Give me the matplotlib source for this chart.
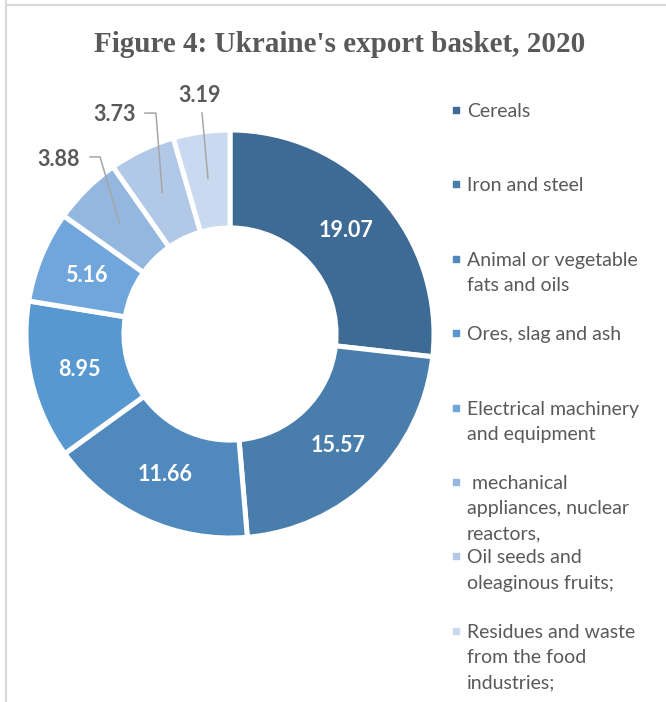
import numpy as np
import matplotlib.pyplot as plt

# Data
categories = ['Cereals', 'Iron and steel', 'Animal or vegetable\nfats and oils',
              'Ores, slag and ash', 'Electrical machinery\nand equipment',
              ' mechanical\nappliances, nuclear\nreactors,',
              'Oil seeds and\noleaginous fruits;',
              'Residues and waste\nfrom the food\nindustries;']
values = [19.07, 15.57, 11.66, 8.95, 5.16, 3.88, 3.73, 3.19]
colors = ['#3E6B95', '#487DAC', '#4F89BE', '#5898D1', '#70A6DB',
          '#94B7E0', '#B1C8E6', '#C9D9EF']
value_labels = ['19.07', '15.57', '11.66', '8.95', '5.16', '3.88', '3.73', '3.19']

W, H = 666, 702
fig = plt.figure(figsize=(W / 100, H / 100), dpi=100)

# overlay axes in pixel coords for frame, title and legend
lax = fig.add_axes([0, 0, 1, 1])
lax.set_xlim(0, W)
lax.set_ylim(H, 0)
lax.axis('off')
lax.plot([6, 6], [0, H], color='#D9D9D9', lw=1.5)
lax.plot([6, W], [5, 5], color='#D9D9D9', lw=1.5)
lax.text(340, 45, "Figure 4: Ukraine's export basket, 2020", ha='center', va='center',
         fontsize=21, fontweight='bold', family='Liberation Serif', color='#595959')

# donut
cx, cy, R, L = 230, 334, 204, 1.2
S = 2 * R * L
ax = fig.add_axes([(cx - S / 2) / W, (H - cy - S / 2) / H, S / W, S / H])
wedges, _ = ax.pie(values, colors=colors, startangle=90, counterclock=False, radius=1,
                   wedgeprops=dict(width=0.48, edgecolor='white', linewidth=3.6))
ax.set_xlim(-L, L)
ax.set_ylim(-L, L)
ax.set_aspect('equal')
ax.axis('off')

# outside label layout (data coords): text pos, leader points before the wedge end
outside = {
    5: ((-0.838, 0.853), [(-0.686, 0.868), (-0.637, 0.868)]),
    6: ((-0.564, 1.074), [(-0.417, 1.083), (-0.363, 1.083)]),
    7: ((-0.147, 1.167), [(-0.137, 1.083)]),
}

for i, w in enumerate(wedges):
    ang = np.deg2rad((w.theta1 + w.theta2) / 2)
    if i in outside:
        tpos, pts = outside[i]
        end = (0.77 * np.cos(ang), 0.77 * np.sin(ang))
        path = pts + [end]
        ax.plot([p[0] for p in path], [p[1] for p in path], color='#A6A6A6', lw=1.1,
                clip_on=False)
        ax.text(tpos[0], tpos[1], value_labels[i], ha='center', va='center',
                fontsize=15.5, fontweight='bold', family='Lato', color='#595959')
    else:
        ax.text(0.76 * np.cos(ang), 0.76 * np.sin(ang), value_labels[i], ha='center',
                va='center', fontsize=15.5, fontweight='bold', family='Lato', color='white')

# legend
y0, step = 110, 74.4
for i, (lab, col) in enumerate(zip(categories, colors)):
    y = y0 + i * step
    lax.scatter([456], [y], marker='s', s=20, color=col)
    lax.text(467, y - 7, lab, ha='left', va='top', fontsize=14, family='Lato',
             color='#595959', linespacing=1.6)

fig.savefig('out.png', dpi=100)
